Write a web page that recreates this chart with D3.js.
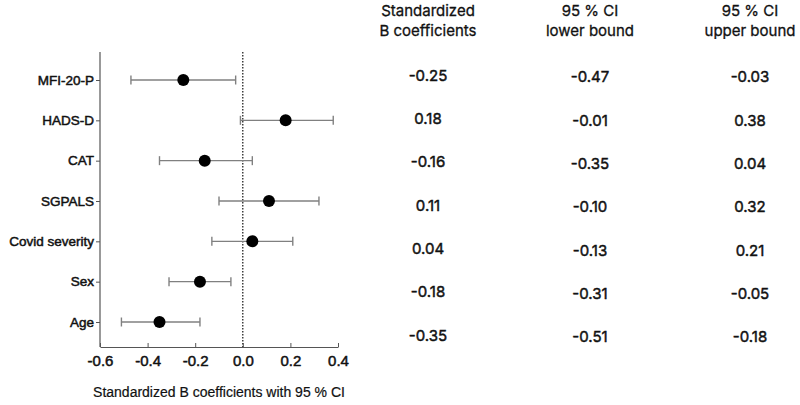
<!DOCTYPE html>
<html>
<head>
<meta charset="utf-8">
<script src="https://cdn.jsdelivr.net/npm/d3@7"></script>
<style>
  body { margin: 0; background: #fff; }
  svg { display: block; }
</style>
</head>
<body>
<div id="chart"></div>
<script>
// predictors, top to bottom
const predictors = ["MFI-20-P", "HADS-D", "CAT", "SGPALS", "Covid severity", "Sex", "Age"];
const coefs = [-0.25, 0.18, -0.16, 0.11, 0.04, -0.18, -0.35];
const lowerCI = [-0.47, -0.01, -0.35, -0.10, -0.13, -0.31, -0.51];
const upperCI = [-0.03, 0.38, 0.04, 0.32, 0.21, -0.05, -0.18];
const xTicks = [-0.6, -0.4, -0.2, 0.0, 0.2, 0.4];
const tableHeaders = [["Standardized", "B coefficients"], ["95 % CI", "lower bound"], ["95 % CI", "upper bound"]];

const width = 800, height = 405;
const chartFont = "'Liberation Sans', Arial, sans-serif";
const tableFont = "Inter, 'Open Sans', sans-serif";

const svg = d3.select("#chart").append("svg")
  .attr("width", width)
  .attr("height", height)
  .style("background", "#fff");

const x = d3.scaleLinear().domain([-0.6, 0.4]).range([100, 338]);
const y = d3.scalePoint().domain(predictors).range([80, 322]);
const axisTop = 52, axisBottom = 347;

const rows = predictors.map((p, i) => ({ name: p, b: coefs[i], lo: lowerCI[i], hi: upperCI[i] }));

// zero reference line
svg.append("line")
  .attr("x1", x(0)).attr("x2", x(0))
  .attr("y1", axisTop).attr("y2", axisBottom)
  .attr("stroke", "#111")
  .attr("stroke-width", 1.2)
  .attr("stroke-dasharray", "1.5,1.5");

// y axis
const yAxis = svg.append("g")
  .attr("transform", `translate(${x.range()[0]},0)`)
  .call(d3.axisLeft(y).tickSize(4).tickSizeOuter(0).tickPadding(2));
yAxis.select(".domain").remove();
yAxis.selectAll(".tick line").attr("stroke", "#555");
yAxis.selectAll("text")
  .attr("font-family", chartFont)
  .attr("font-size", 13.5)
  .attr("fill", "#111")
  .attr("stroke", "#111").attr("stroke-width", 0.5);
yAxis.append("line")
  .attr("y1", axisTop).attr("y2", axisBottom)
  .attr("stroke", "#555").attr("stroke-width", 1.2);

// x axis
const xAxis = svg.append("g")
  .attr("transform", `translate(0,${axisBottom})`)
  .call(d3.axisBottom(x).tickValues(xTicks).tickSize(-4).tickSizeOuter(0).tickPadding(8));
xAxis.select(".domain").attr("stroke", "#555").attr("stroke-width", 1.2);
xAxis.selectAll(".tick line").attr("stroke", "#555");
xAxis.selectAll("text")
  .text(d => d.toFixed(1))
  .attr("font-family", chartFont)
  .attr("font-size", 15)
  .attr("fill", "#111")
  .attr("stroke", "#111").attr("stroke-width", 0.5);

svg.append("text")
  .attr("x", (x.range()[0] + x.range()[1]) / 2)
  .attr("y", 397)
  .attr("text-anchor", "middle")
  .attr("font-family", chartFont)
  .attr("font-size", 14)
  .attr("fill", "#111")
  .attr("stroke", "#111").attr("stroke-width", 0.2)
  .text("Standardized B coefficients with 95 % CI");

// error bars
const bars = svg.append("g").selectAll("g").data(rows).join("g")
  .attr("stroke", "#808080").attr("stroke-width", 1.4);
bars.append("line")
  .attr("x1", d => x(d.lo)).attr("x2", d => x(d.hi))
  .attr("y1", d => y(d.name)).attr("y2", d => y(d.name));
bars.append("line")
  .attr("x1", d => x(d.lo)).attr("x2", d => x(d.lo))
  .attr("y1", d => y(d.name) - 4.5).attr("y2", d => y(d.name) + 4.5);
bars.append("line")
  .attr("x1", d => x(d.hi)).attr("x2", d => x(d.hi))
  .attr("y1", d => y(d.name) - 4.5).attr("y2", d => y(d.name) + 4.5);

svg.append("g").selectAll("circle").data(rows).join("circle")
  .attr("cx", d => x(d.b))
  .attr("cy", d => y(d.name))
  .attr("r", 6)
  .attr("fill", "#000");

// table on the right
const colX = [428, 590, 750];
const rowY = d3.scaleLinear().domain([0, predictors.length - 1]).range([77, 337]);
const fmt = v => v.toFixed(2);

tableHeaders.forEach((lines, c) => {
  lines.forEach((t, j) => {
    svg.append("text")
      .attr("x", colX[c]).attr("y", 16 + j * 20)
      .attr("text-anchor", "middle")
      .attr("font-family", tableFont)
      .attr("font-size", 15)
      .attr("fill", "#111")
      .attr("stroke", "#111").attr("stroke-width", 0.3)
      .text(t);
  });
});

const tableCols = [coefs, lowerCI, upperCI];
tableCols.forEach((vals, c) => {
  svg.append("g").selectAll("text").data(vals).join("text")
    .attr("x", colX[c])
    .attr("y", (d, i) => rowY(i) + (c === 0 ? -1.5 : 0))
    .attr("dy", "0.35em")
    .attr("text-anchor", "middle")
    .attr("font-family", tableFont)
    .attr("font-size", 15)
    .attr("fill", "#111")
    .attr("stroke", "#111").attr("stroke-width", 0.45)
    .text(fmt);
});
</script>
</body>
</html>
